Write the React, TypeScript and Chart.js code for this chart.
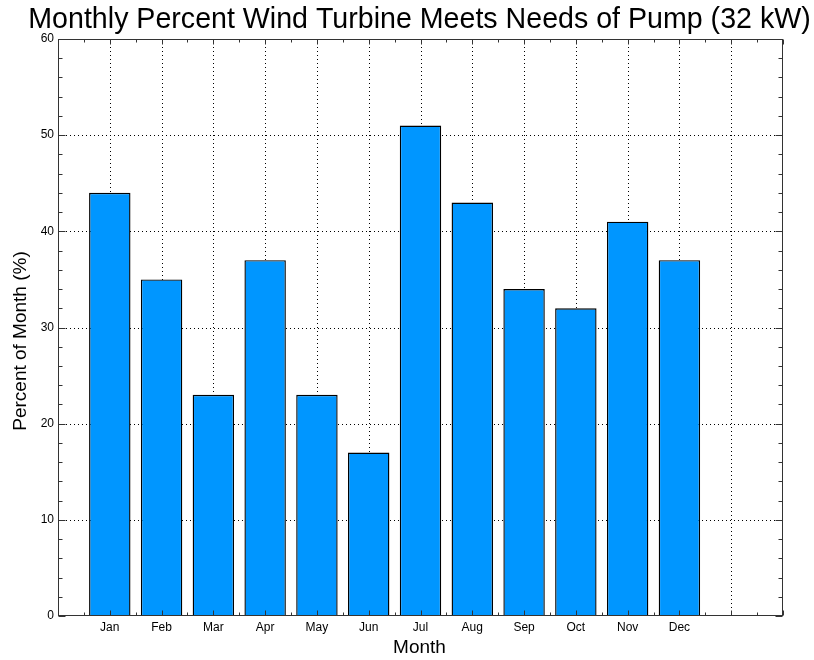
import React, { useEffect, useRef } from "react";
import { Chart, registerables } from "chart.js";

Chart.register(...registerables);

// Months shown along the x axis (positions 1..12 on a 0..14 scale)
const months = ["Jan", "Feb", "Mar", "Apr", "May", "Jun", "Jul", "Aug", "Sep", "Oct", "Nov", "Dec"];
// Percent of each month that the 32 kW turbine covers the pump demand
const percentMet = [44, 35, 23, 37, 23, 17, 51, 43, 34, 32, 41, 37];

const xMin = 0;
const xMax = 14;
const yMin = 0;
const yMax = 60;
const yMajorStep = 10;
const yMinorStep = 2;
const xMinorStep = 0.5;

const titleText = "Monthly Percent Wind Turbine Meets Needs of Pump (32 kW)";
const xTitle = "Month";
const yTitle = "Percent of Month (%)";

const FONT = "'Liberation Sans', Arial, Helvetica, sans-serif";

// Dotted grid behind the bars, boxed frame with inward ticks, and titles on top.
const framePlugin = {
  id: "frameAndTitles",
  beforeDatasetsDraw(chart: any) {
    const { ctx, chartArea: a, scales } = chart;
    const x = scales.x;
    const y = scales.y;
    ctx.save();
    ctx.strokeStyle = "#000";
    ctx.lineWidth = 1;
    ctx.setLineDash([1, 3]);
    for (let v = yMin + yMajorStep; v < yMax; v += yMajorStep) {
      const py = Math.round(y.getPixelForValue(v)) + 0.5;
      ctx.beginPath();
      ctx.moveTo(a.left, py);
      ctx.lineTo(a.right, py);
      ctx.stroke();
    }
    for (let v = xMin + 1; v < xMax; v += 1) {
      const px = Math.round(x.getPixelForValue(v)) + 0.5;
      ctx.beginPath();
      ctx.moveTo(px, a.top);
      ctx.lineTo(px, a.bottom);
      ctx.stroke();
    }
    ctx.restore();
  },
  afterDatasetsDraw(chart: any) {
    const { ctx, chartArea: a, scales } = chart;
    const x = scales.x;
    const y = scales.y;
    const L = Math.round(a.left) + 0.5;
    const R = Math.round(a.right) - 0.5;
    const T = Math.round(a.top) + 0.5;
    const B = Math.round(a.bottom) - 0.5;
    ctx.save();
    ctx.strokeStyle = "#333";
    ctx.lineWidth = 1;
    ctx.setLineDash([]);
    ctx.beginPath();
    // y ticks on left and right, pointing inward
    for (let v = yMin; v <= yMax + 1e-9; v += yMinorStep) {
      const major = Math.abs(v % yMajorStep) < 1e-9;
      const len = major ? 7 : 4;
      const py = Math.round(y.getPixelForValue(v)) + 0.5;
      ctx.moveTo(L, py);
      ctx.lineTo(L + len, py);
      ctx.moveTo(R, py);
      ctx.lineTo(R - len, py);
    }
    // x ticks on bottom and top, pointing inward
    for (let v = xMin; v <= xMax + 1e-9; v += xMinorStep) {
      const major = Math.abs(v % 1) < 1e-9;
      const len = major ? 5 : 3;
      const px = Math.round(x.getPixelForValue(v)) + 0.5;
      ctx.moveTo(px, B);
      ctx.lineTo(px, B - len);
      ctx.moveTo(px, T);
      ctx.lineTo(px, T + len);
    }
    ctx.stroke();
    ctx.strokeRect(L, T, R - L, B - T);
    ctx.restore();
  },
  afterDraw(chart: any) {
    const { ctx, chartArea: a } = chart;
    const cx = (a.left + a.right) / 2;
    ctx.save();
    ctx.fillStyle = "#000";
    ctx.textAlign = "center";
    ctx.textBaseline = "alphabetic";
    ctx.font = `28.6px ${FONT}`;
    ctx.fillText(titleText, cx - 1, 28);
    ctx.font = `19px ${FONT}`;
    ctx.fillText(xTitle, cx - 1, 653);
    ctx.translate(21, 341);
    ctx.rotate(-Math.PI / 2);
    ctx.textBaseline = "middle";
    ctx.fillText(yTitle, 0, 0);
    ctx.restore();
  },
};

export default function App() {
  const canvasRef = useRef<HTMLCanvasElement | null>(null);

  useEffect(() => {
    const canvas = canvasRef.current;
    if (!canvas) return;
    const points = months.map((_, i) => ({ x: i + 1, y: percentMet[i] }));
    const chart = new Chart(canvas, {
      type: "bar",
      data: {
        datasets: [
          {
            data: points,
            backgroundColor: "rgb(0, 150, 255)",
            borderColor: "#000",
            borderWidth: 1.4,
            barPercentage: 0.8,
            categoryPercentage: 1,
          },
        ],
      },
      options: {
        responsive: false,
        animation: false,
        layout: { padding: { top: 39, right: 31, bottom: 0, left: 0 } },
        plugins: {
          legend: { display: false },
          title: { display: false },
          tooltip: { enabled: false },
        },
        scales: {
          x: {
            type: "linear",
            min: xMin,
            max: xMax,
            offset: false,
            grid: { display: false, drawTicks: false },
            border: { display: false },
            ticks: {
              stepSize: 1,
              autoSkip: false,
              maxRotation: 0,
              padding: 4,
              color: "#000",
              font: { family: FONT, size: 12 },
              callback: (v: any) => {
                const n = Number(v);
                return Number.isInteger(n) && n >= 1 && n <= months.length ? months[n - 1] : "";
              },
            },
            afterFit: (scale: any) => {
              scale.height = 44;
            },
          },
          y: {
            type: "linear",
            min: yMin,
            max: yMax,
            grid: { display: false, drawTicks: false },
            border: { display: false },
            ticks: {
              stepSize: yMajorStep,
              padding: 4,
              color: "#000",
              font: { family: FONT, size: 12 },
            },
            afterFit: (scale: any) => {
              scale.width = 58;
            },
          },
        },
      },
      plugins: [framePlugin],
    });
    return () => chart.destroy();
  }, []);

  return (
    <div style={{ position: "absolute", left: 0, top: 0, width: 814, height: 660, background: "#fff" }}>
      <canvas ref={canvasRef} width={814} height={660} style={{ display: "block" }} />
    </div>
  );
}
